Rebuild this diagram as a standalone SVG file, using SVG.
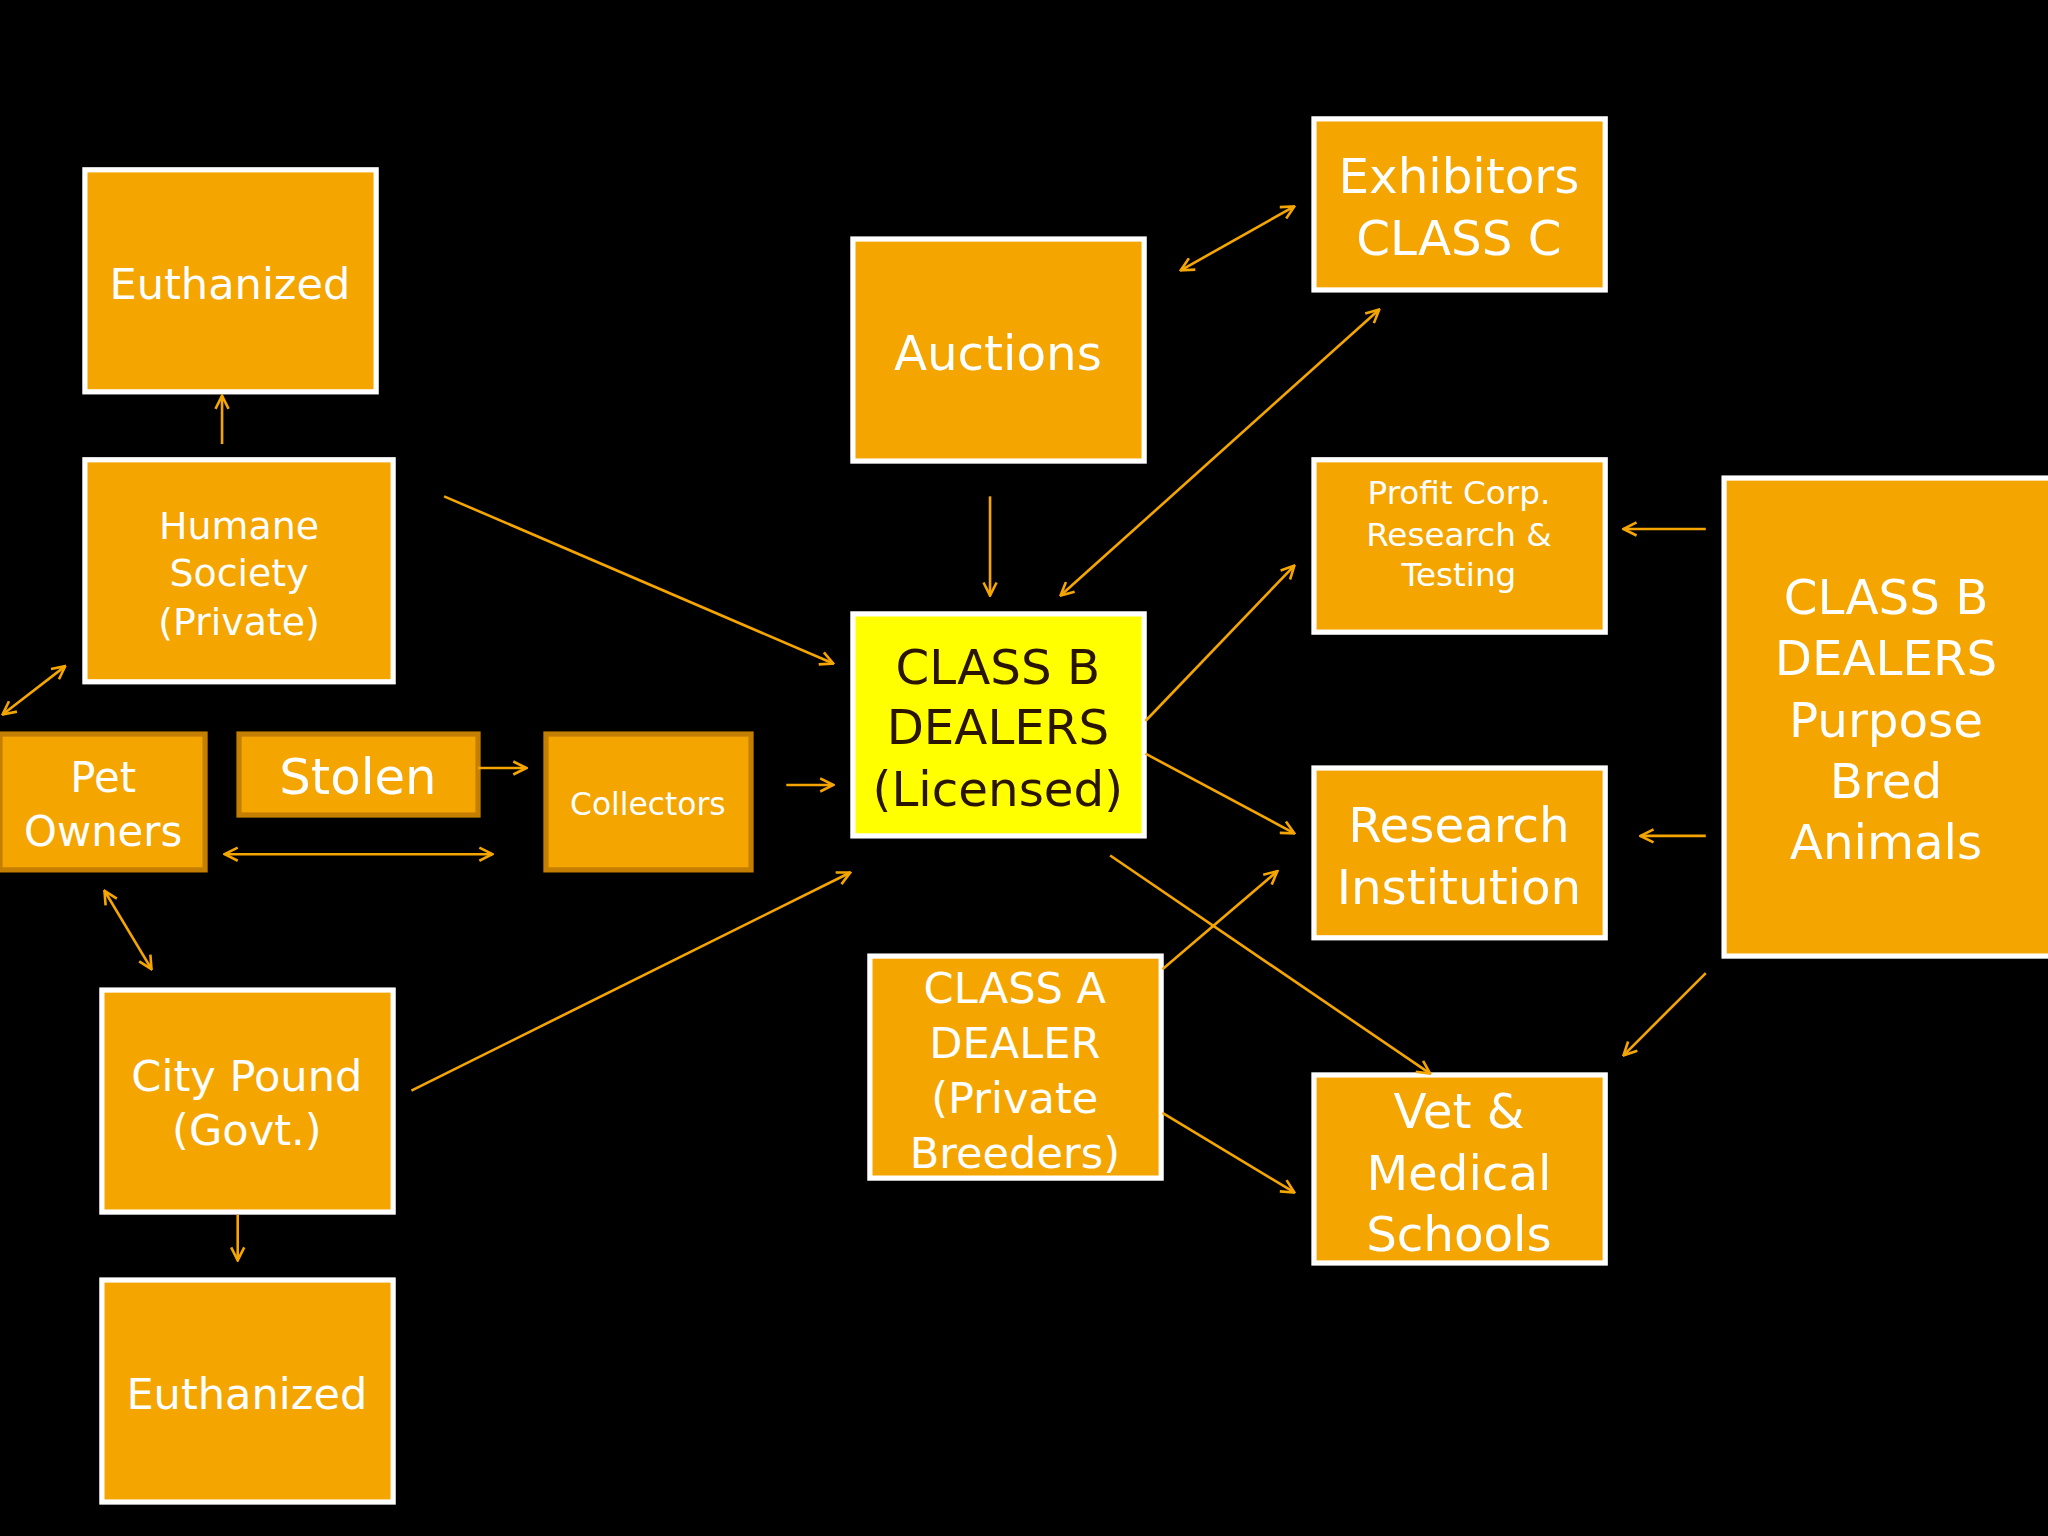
<svg xmlns="http://www.w3.org/2000/svg" width="2048" height="1536" viewBox="0 0 2048 1536">
<style>
.n{fill:#f5a500;stroke:#fff;stroke-width:4}
.d{fill:#f5a500;stroke:#c47f00;stroke-width:4}
.t{fill:#fff;font-family:"DejaVu Sans",Verdana,sans-serif;text-anchor:middle}
.c{fill:none;stroke:#f5a500;stroke-width:2}
</style>
<defs>
<marker id="a" viewBox="0 0 12 12" refX="11" refY="6" markerWidth="12" markerHeight="12" markerUnits="userSpaceOnUse" orient="auto-start-reverse">
<path d="M1,1 L11,6 L1,11" fill="none" stroke="#f5a500" stroke-width="2"/>
</marker>
</defs>
<rect width="2048" height="1536" fill="#000"/>
<g transform="scale(1.30612)">
<g id="eu1"><rect class="n" x="65" y="130" width="223" height="170"/><text class="t" x="176" y="229" font-size="33">Euthanized</text></g>
<g id="humane"><rect class="n" x="65" y="352" width="236" height="170"/><text class="t" font-size="29"><tspan x="183" y="413">Humane</tspan><tspan x="183" y="449">Society</tspan><tspan x="183" y="486">(Private)</tspan></text></g>
<g id="pet"><rect class="d" x="0" y="562" width="157" height="104"/><text class="t" font-size="32"><tspan x="79" y="606">Pet</tspan><tspan x="79" y="648">Owners</tspan></text></g>
<g id="stolen"><rect class="d" x="183" y="562" width="183" height="62"/><text class="t" x="274" y="608" font-size="38">Stolen</text></g>
<g id="collectors"><rect class="d" x="418" y="562" width="157" height="104"/><text class="t" x="496" y="624" font-size="24">Collectors</text></g>
<g id="pound"><rect class="n" x="78" y="758" width="223" height="170"/><text class="t" font-size="33"><tspan x="189" y="835">City Pound</tspan><tspan x="189" y="877">(Govt.)</tspan></text></g>
<g id="eu2"><rect class="n" x="78" y="980" width="223" height="170"/><text class="t" x="189" y="1079" font-size="33">Euthanized</text></g>
<g id="auctions"><rect class="n" x="653" y="183" width="223" height="170"/><text class="t" x="764" y="283" font-size="37">Auctions</text></g>
<g id="classb"><rect x="653" y="470" width="223" height="170" fill="#ffff00" stroke="#fff" stroke-width="4"/><text class="t" font-size="37" fill="#2a1500" style="fill:#2a1500"><tspan x="764" y="524">CLASS B</tspan><tspan x="764" y="570">DEALERS</tspan><tspan x="764" y="617">(Licensed)</tspan></text></g>
<g id="classa"><rect class="n" x="666" y="732" width="223" height="170"/><text class="t" font-size="33"><tspan x="777" y="768">CLASS A</tspan><tspan x="777" y="810">DEALER</tspan><tspan x="777" y="852">(Private</tspan><tspan x="777" y="894">Breeders)</tspan></text></g>
<g id="exhib"><rect class="n" x="1006" y="91" width="223" height="131"/><text class="t" font-size="37"><tspan x="1117" y="148">Exhibitors</tspan><tspan x="1117" y="195">CLASS C</tspan></text></g>
<g id="profit"><rect class="n" x="1006" y="352" width="223" height="132"/><text class="t" font-size="25"><tspan x="1117" y="386">Profit Corp.</tspan><tspan x="1117" y="418">Research &amp;</tspan><tspan x="1117" y="449">Testing</tspan></text></g>
<g id="research"><rect class="n" x="1006" y="588" width="223" height="130"/><text class="t" font-size="37"><tspan x="1117" y="645">Research</tspan><tspan x="1117" y="692">Institution</tspan></text></g>
<g id="vet"><rect class="n" x="1006" y="823" width="223" height="144"/><text class="t" font-size="37"><tspan x="1117" y="864">Vet &amp;</tspan><tspan x="1117" y="911">Medical</tspan><tspan x="1117" y="958">Schools</tspan></text></g>
<g id="purpose"><rect class="n" x="1320" y="366" width="250" height="366"/><text class="t" font-size="37"><tspan x="1444" y="470">CLASS B</tspan><tspan x="1444" y="517">DEALERS</tspan><tspan x="1444" y="564">Purpose</tspan><tspan x="1444" y="611">Bred</tspan><tspan x="1444" y="658">Animals</tspan></text></g>
<g id="connectors">
<path class="c" marker-end="url(#a)" d="M170,340 L170,303"/>
<path class="c" marker-end="url(#a)" d="M340,380 L638,508"/>
<path class="c" marker-start="url(#a)" marker-end="url(#a)" d="M2,547 L50,510"/>
<path class="c" marker-end="url(#a)" d="M366,588 L403,588"/>
<path class="c" marker-start="url(#a)" marker-end="url(#a)" d="M172,654 L377,654"/>
<path class="c" marker-end="url(#a)" d="M602,601 L638,601"/>
<path class="c" marker-start="url(#a)" marker-end="url(#a)" d="M80,682 L116,742"/>
<path class="c" marker-end="url(#a)" d="M315,835 L651,668"/>
<path class="c" marker-end="url(#a)" d="M182,930 L182,965"/>
<path class="c" marker-end="url(#a)" d="M758,380 L758,456"/>
<path class="c" marker-start="url(#a)" marker-end="url(#a)" d="M904,207 L991,158"/>
<path class="c" marker-start="url(#a)" marker-end="url(#a)" d="M812,456 L1056,237"/>
<path class="c" marker-end="url(#a)" d="M877,552 L991,433"/>
<path class="c" marker-end="url(#a)" d="M877,577 L991,638"/>
<path class="c" marker-end="url(#a)" d="M850,655 L1095,822"/>
<path class="c" marker-end="url(#a)" d="M890,742 L978,667"/>
<path class="c" marker-end="url(#a)" d="M890,852 L991,913"/>
<path class="c" marker-end="url(#a)" d="M1306,405 L1243,405"/>
<path class="c" marker-end="url(#a)" d="M1306,640 L1256,640"/>
<path class="c" marker-end="url(#a)" d="M1306,745 L1243,808"/>
</g>
</g>
</svg>
